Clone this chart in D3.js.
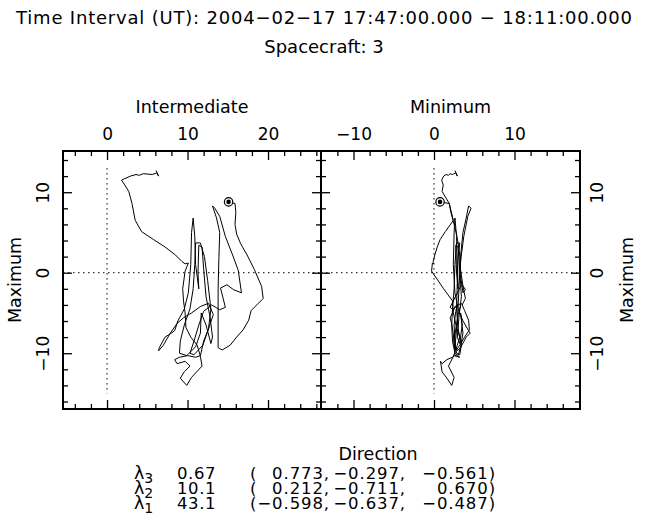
<!DOCTYPE html>
<html>
<head>
<meta charset="utf-8">
<script src="https://cdn.jsdelivr.net/npm/d3@7"></script>
<style>
  body { margin: 0; background: #fff; }
  svg { display: block; }
  svg text { font-family: 'DejaVu Sans', sans-serif; fill: #000; }
</style>
</head>
<body>
<svg id="chart" width="648" height="530"></svg>
<script>
// field components along the variance directions, in time order (first point = start marker)
var intermediate = [15.1, 15.9, 16.0, 15.9, 16.1, 16.6, 17.4, 18.3, 19.2, 19.4, 18.6, 17.9, 17.6, 16.9, 16.1, 15.3, 14.3, 13.8,
    13.8, 13.8, 13.9, 14.0, 13.6, 13.1, 13.4, 14.0,
    14.7, 15.6, 16.3, 16.7, 15.7, 14.9, 14.1,
    14.7, 14.0, 13.0, 12.0, 11.4, 10.8, 10.3, 10.8, 11.9, 12.6,
    12.9, 12.5, 12.1, 11.6, 11.0, 10.9, 10.7, 10.3, 9.6, 9.1,
    9.0, 9.9, 11.0, 11.6, 11.7,
    12.3, 12.9, 13.1, 12.8, 12.3, 12.0, 11.8, 11.4, 11.3,
    11.4, 11.0, 10.9, 10.7, 10.5,
    10.4, 10.1, 9.6, 8.8, 8.4, 8.0, 7.2, 6.5, 6.4, 7.0,
    7.8, 8.7, 9.5, 10.5, 11.6, 12.6, 13.2, 12.6, 12.0, 11.6,
    11.0, 10.0, 9.0, 8.4, 8.7, 9.7, 10.3, 9.6, 9.1, 9.9,
    10.5, 11.8, 11.6, 11.2, 10.4, 9.8, 9.7, 9.5, 9.4, 9.7,
    10.1, 9.7, 9.3,
    8.5, 7.2, 5.8, 4.3, 3.5, 3.1, 2.7, 2.2, 1.8, 2.9, 3.6, 4.0, 4.5, 5.6, 6.2, 6.4, 6.1];

var maximum = [8.8, 8.6, 7.5, 6.0, 4.8, 3.6, 2.2, 0.4, -1.7, -3.2, -4.0, -4.7, -5.9, -7.1, -8.0, -9.0, -9.6, -9.3,
    -6.0, -2.0, 2.0, 5.0, 6.8, 8.3, 8.0, 7.0,
    4.5, 2.2, 0.3, -2.5, -2.1, -1.5, -1.9,
    -4.3, -4.6, -4.0, -4.8, -6.5, -8.5, -10.0, -10.2, -9.0, -7.0,
    -4.5, -1.0, 2.0, 3.7, 3.7, 1.0, -2.0, -4.5, -6.5, -8.5,
    -10.0, -10.3, -9.2, -7.5, -5.0,
    -6.5, -8.8, -8.0, -5.5, -3.0, 0.5, 3.2, 3.4, 0.0,
    -2.0, 1.0, 4.5, 6.8, 5.0,
    1.0, -2.5, -4.5, -6.0, -7.2, -7.5, -8.0, -9.3, -9.7, -9.0,
    -7.6, -6.3, -5.6, -5.0, -4.2, -3.8, -5.2, -7.0, -8.5, -10.3,
    -10.5, -10.3, -10.5, -10.8, -11.3, -11.0, -11.6, -12.3, -13.1, -14.0,
    -13.0, -11.6, -10.4, -9.0, -8.0, -6.8, -5.0, -3.5, -2.0, 0.2,
    1.2, 1.1, 1.4,
    2.2, 3.2, 4.1, 5.1, 6.5, 8.6, 10.1, 10.9, 11.5, 12.0, 12.2, 12.1, 12.3, 12.2, 12.4, 12.0, 12.7];

var minimum = [0.75, 1.9, 2.1, 2.5, 2.8, 3.0, 3.2, 3.3, 3.6, 3.9, 3.5, 3.8, 4.3, 4.4, 3.8, 3.2, 2.8, 2.6,
    2.9, 3.1, 3.3, 3.6, 4.0, 4.3, 4.6, 4.2,
    3.7, 3.4, 3.2, 3.6, 3.9, 3.5, 3.2,
    2.0, 2.4, 2.9, 2.7, 2.5, 2.6, 2.8, 3.2, 3.4, 3.0,
    2.8, 2.9, 3.0, 3.2, 2.8, 2.6, 2.5, 2.3, 2.2, 2.3,
    2.6, 3.0, 3.3, 3.6, 3.3,
    3.5, 3.2, 2.9, 3.1, 3.4, 3.2, 3.0, 2.7, 2.8,
    3.0, 2.9, 2.8, 2.6, 2.5,
    2.4, 2.6, 3.0, 3.6, 4.3, 4.5, 4.0, 3.3, 2.9, 2.5,
    2.4, 2.2, 2.0, 2.3, 2.6, 3.4, 3.0, 2.7, 2.5, 2.6,
    3.2, 2.6, 2.3, 1.6, 1.0, 0.8, 0.9, 1.0, 1.6, 2.2,
    2.5, 1.8, 2.4, 2.9, 3.2, 2.8, 2.4, 2.3, 1.2, -0.3,
    -0.2, -0.1, -0.1,
    0.1, 0.4, 0.75, 1.4, 2.4, 1.9, 1.0, 1.15, 0.95, 1.2, 1.5, 1.8, 2.0, 2.3, 2.7, 2.9, 2.6];

var titleText = 'Time Interval (UT): 2004\u221202\u221217 17:47:00.000 \u2212 18:11:00.000';
var spacecraftText = 'Spacecraft: 3';

var eigenIndex = ['3', '2', '1'];
var eigenValues = ['0.67', '10.1', '43.1'];
var directions = [
    ['0.773', '\u22120.297', '\u22120.561'],
    ['0.212', '\u22120.711', '0.670'],
    ['\u22120.598', '\u22120.637', '\u22120.487']
];

var intTicks = [0, 10, 20];
var minTicks = [-10, 0, 10];
var maxTicks = [-10, 0, 10];
</script>
<script>
(function (d3) {
    'use strict';

    var svg = d3.select('#chart');
    var top = 151, bottom = 409, left = 63, split = 321, right = 580;

    var y = d3.scaleLinear().domain([-16.93, 15.12]).range([bottom, top]);
    var xInt = d3.scaleLinear().domain([-5.47, 26.58]).range([left, split]);
    var xMin = d3.scaleLinear().domain([-14.04, 18.14]).range([split, right]);
    var fmt = d3.format('d');

    function minorTicks(scale) {
        var d = scale.domain();
        return d3.range(Math.ceil(d[0] / 2) * 2, d[1], 2).filter(function (v) {
            return v % 10 !== 0 && v > d[0] + 0.2 && v < d[1] - 0.2;
        });
    }

    function styleAxis(g) {
        g.select('.domain').remove();
        g.selectAll('line').attr('stroke', '#000').attr('stroke-width', 1.3);
        g.selectAll('text').attr('font-size', 17);
    }

    function axisPair(g, axisFn, scale, major, showLabels) {
        g.append('g').call(axisFn(scale).tickValues(minorTicks(scale)).tickSize(-5).tickFormat('')).call(styleAxis);
        var a = g.append('g').call(axisFn(scale).tickValues(major).tickSize(-9).tickPadding(11)
            .tickFormat(showLabels ? fmt : '')).call(styleAxis);
        return a;
    }

    function panel(x, xTicks, xName, yLabelSide) {
        var g = svg.append('g');

        // zero lines
        g.append('line')
            .attr('x1', x.range()[0]).attr('x2', x.range()[1])
            .attr('y1', y(0)).attr('y2', y(0))
            .attr('stroke', '#000').attr('stroke-width', 1)
            .attr('stroke-dasharray', '1.5,3.5');
        g.append('line')
            .attr('x1', x(0)).attr('x2', x(0))
            .attr('y1', y(13)).attr('y2', y(-15))
            .attr('stroke', '#000').attr('stroke-width', 1)
            .attr('stroke-dasharray', '1.5,3.5');

        // hodogram
        var line = d3.line()
            .x(function (d, i) { return x(d); })
            .y(function (d, i) { return y(maximum[i]); });
        var xs = x === xInt ? intermediate : minimum;
        g.append('path')
            .datum(xs)
            .attr('d', line)
            .attr('fill', 'none')
            .attr('stroke', '#000')
            .attr('stroke-width', 1)
            .attr('stroke-linejoin', 'round');

        g.append('circle')
            .attr('cx', x(xs[0])).attr('cy', y(maximum[0]))
            .attr('r', 4.2).attr('fill', '#fff').attr('stroke', '#000').attr('stroke-width', 1.2);
        g.append('circle')
            .attr('cx', x(xs[0])).attr('cy', y(maximum[0]))
            .attr('r', 2.3).attr('fill', '#000');

        // axes
        axisPair(g.append('g').attr('transform', 'translate(0,' + top + ')'), d3.axisTop, x, xTicks, true);
        axisPair(g.append('g').attr('transform', 'translate(0,' + bottom + ')'), d3.axisBottom, x, xTicks, false);

        var x0 = x.range()[0], x1 = x.range()[1];
        var la = axisPair(g.append('g').attr('transform', 'translate(' + x0 + ',0)'), d3.axisLeft, y, maxTicks, yLabelSide === 'left');
        var ra = axisPair(g.append('g').attr('transform', 'translate(' + x1 + ',0)'), d3.axisRight, y, maxTicks, yLabelSide === 'right');

        var labelled = yLabelSide === 'left' ? la : ra;
        var off = yLabelSide === 'left' ? -20 : 17;
        labelled.selectAll('.tick text')
            .attr('x', 0).attr('dy', '0.36em')
            .attr('text-anchor', 'middle')
            .attr('transform', 'translate(' + off + ',0) rotate(-90)');

        g.append('rect')
            .attr('x', x0).attr('y', top)
            .attr('width', x1 - x0).attr('height', bottom - top)
            .attr('fill', 'none').attr('stroke', '#000').attr('stroke-width', 2);

        g.append('text')
            .attr('x', (x0 + x1) / 2).attr('y', 113)
            .attr('text-anchor', 'middle').attr('font-size', 17.5)
            .text(xName);

        var lx = yLabelSide === 'left' ? 15 : 627;
        g.append('text')
            .attr('transform', 'translate(' + lx + ',' + ((top + bottom) / 2) + ') rotate(-90)')
            .attr('dy', '0.36em')
            .attr('text-anchor', 'middle').attr('font-size', 17.5)
            .text('Maximum');
    }

    panel(xInt, intTicks, 'Intermediate', 'left');
    panel(xMin, minTicks, 'Minimum', 'right');

    svg.append('text')
        .attr('x', 324).attr('y', 24)
        .attr('text-anchor', 'middle').attr('font-size', 18)
        .attr('textLength', 616)
        .text(titleText);
    svg.append('text')
        .attr('x', 324).attr('y', 53)
        .attr('text-anchor', 'middle').attr('font-size', 18)
        .text(spacecraftText);

    // eigenvalue table
    svg.append('text')
        .attr('x', 378).attr('y', 460)
        .attr('text-anchor', 'middle').attr('font-size', 17.5)
        .text('Direction');

    var rows = svg.append('g').selectAll('g')
        .data(eigenValues)
        .enter().append('g')
        .attr('font-size', 16.5)
        .attr('transform', function (d, i) { return 'translate(0,' + (479 + i * 15) + ')'; });

    var lam = rows.append('text').attr('x', 134);
    lam.append('tspan').attr('font-size', 17.5).text('\u03bb');
    lam.append('tspan').attr('dy', 4).attr('font-size', 14).text(function (d, i) { return eigenIndex[i]; });

    rows.append('text').attr('x', 177).attr('letter-spacing', 0.6).text(function (d) { return d; });
    rows.append('text').attr('x', 250).text('(');
    rows.append('text').attr('x', 330).attr('text-anchor', 'end').attr('letter-spacing', 0.9)
        .text(function (d, i) { return directions[i][0] + ','; });
    rows.append('text').attr('x', 406).attr('text-anchor', 'end').attr('letter-spacing', 0.9)
        .text(function (d, i) { return directions[i][1] + ','; });
    rows.append('text').attr('x', 496).attr('text-anchor', 'end').attr('letter-spacing', 0.9)
        .text(function (d, i) { return directions[i][2] + ')'; });
})(window.d3);
</script>
</body>
</html>
